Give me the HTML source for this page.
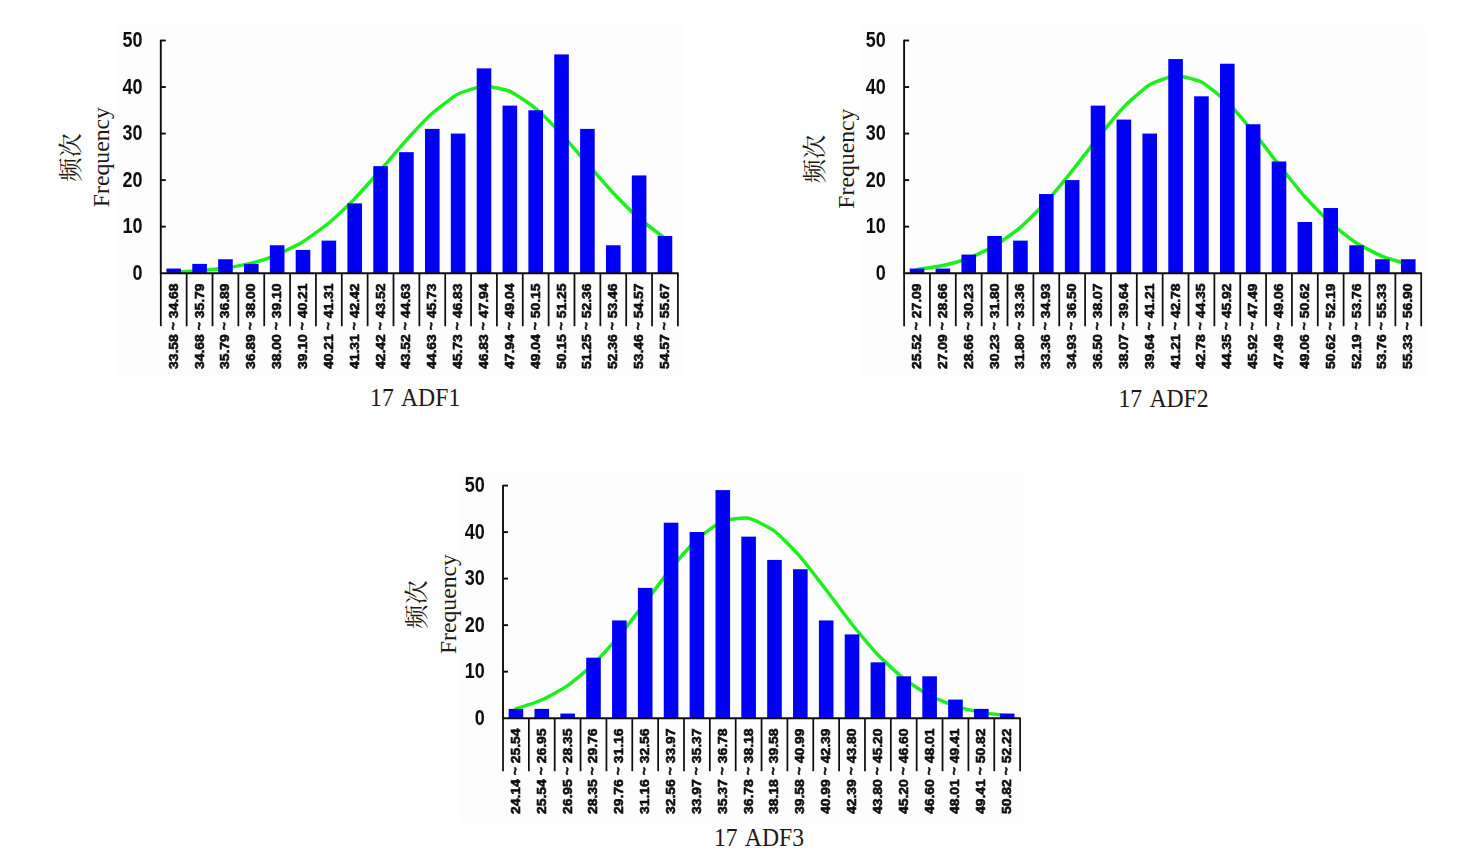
<!DOCTYPE html>
<html lang="en">
<head>
<meta charset="utf-8">
<title>Frequency distribution of ADF</title>
<style>
html,body{margin:0;padding:0;background:#ffffff;}
body{width:1470px;height:862px;overflow:hidden;font-family:"Liberation Sans",sans-serif;}
svg{display:block;position:absolute;left:0;top:0;}
</style>
</head>
<body>
<svg width="1470" height="862" viewBox="0 0 1470 862">
<defs><filter id="soft" filterUnits="userSpaceOnUse" x="0" y="0" width="1470" height="862"><feGaussianBlur stdDeviation="0.45"/></filter></defs>
<rect x="116.8" y="25.5" width="566.1" height="351.7" fill="#fdfdfd"/>
<g filter="url(#soft)">
<path d="M173.73 272.14C175.88 272.03 195.27 271.13 199.58 270.79C203.89 270.45 221.13 268.74 225.44 268.1C229.75 267.47 246.98 264.27 251.29 263.16C255.6 262.05 272.84 256.57 277.15 254.78C281.46 252.99 298.69 244.34 303 241.69C307.31 239.04 324.55 226.57 328.86 222.98C333.17 219.39 350.4 203.03 354.71 198.61C359.02 194.19 376.26 174.85 380.57 169.97C384.88 165.09 402.11 144.8 406.42 140.07C410.73 135.34 427.97 117.06 432.28 113.22C436.59 109.38 453.82 96.3 458.13 94.05C462.44 91.81 479.68 86.48 483.99 86.26C488.3 86.05 505.53 89.58 509.84 91.43C514.15 93.28 531.39 104.94 535.7 108.5C540.01 112.06 557.24 129.54 561.55 134.14C565.86 138.75 583.1 158.89 587.41 163.79C591.72 168.7 608.95 188.44 613.26 192.99C617.57 197.54 634.81 214.63 639.12 218.4C643.43 222.18 662.82 236.66 664.97 238.32" fill="none" stroke="#1cef1c" stroke-width="3.5" stroke-linecap="round" stroke-linejoin="round"/>
<rect x="166.43" y="268.55" width="14.6" height="4.66" fill="#0505f5"/>
<rect x="192.28" y="263.89" width="14.6" height="9.31" fill="#0505f5"/>
<rect x="218.14" y="259.24" width="14.6" height="13.96" fill="#0505f5"/>
<rect x="243.99" y="263.89" width="14.6" height="9.31" fill="#0505f5"/>
<rect x="269.85" y="245.27" width="14.6" height="27.93" fill="#0505f5"/>
<rect x="295.7" y="249.92" width="14.6" height="23.28" fill="#0505f5"/>
<rect x="321.56" y="240.61" width="14.6" height="32.59" fill="#0505f5"/>
<rect x="347.41" y="203.38" width="14.6" height="69.83" fill="#0505f5"/>
<rect x="373.27" y="166.13" width="14.6" height="107.07" fill="#0505f5"/>
<rect x="399.12" y="152.17" width="14.6" height="121.03" fill="#0505f5"/>
<rect x="424.98" y="128.89" width="14.6" height="144.31" fill="#0505f5"/>
<rect x="450.83" y="133.55" width="14.6" height="139.65" fill="#0505f5"/>
<rect x="476.69" y="68.38" width="14.6" height="204.82" fill="#0505f5"/>
<rect x="502.54" y="105.62" width="14.6" height="167.58" fill="#0505f5"/>
<rect x="528.4" y="110.27" width="14.6" height="162.93" fill="#0505f5"/>
<rect x="554.25" y="54.41" width="14.6" height="218.79" fill="#0505f5"/>
<rect x="580.11" y="128.89" width="14.6" height="144.31" fill="#0505f5"/>
<rect x="605.96" y="245.27" width="14.6" height="27.93" fill="#0505f5"/>
<rect x="631.82" y="175.44" width="14.6" height="97.76" fill="#0505f5"/>
<rect x="657.67" y="235.96" width="14.6" height="37.24" fill="#0505f5"/>
<g stroke="#101010" stroke-width="1.9" fill="none">
<path d="M160.8 39.8V273.2H678.6"/>
<path d="M160.8 40.5h5"/>
<path d="M160.8 87.04h5"/>
<path d="M160.8 133.58h5"/>
<path d="M160.8 180.12h5"/>
<path d="M160.8 226.66h5"/>
</g>
<g stroke="#101010" stroke-width="1.75">
<path d="M160.8 273.2v53"/>
<path d="M186.66 273.2v53"/>
<path d="M212.51 273.2v53"/>
<path d="M238.37 273.2v53"/>
<path d="M264.22 273.2v53"/>
<path d="M290.08 273.2v53"/>
<path d="M315.93 273.2v53"/>
<path d="M341.79 273.2v53"/>
<path d="M367.64 273.2v53"/>
<path d="M393.5 273.2v53"/>
<path d="M419.35 273.2v53"/>
<path d="M445.21 273.2v53"/>
<path d="M471.06 273.2v53"/>
<path d="M496.92 273.2v53"/>
<path d="M522.77 273.2v53"/>
<path d="M548.62 273.2v53"/>
<path d="M574.48 273.2v53"/>
<path d="M600.34 273.2v53"/>
<path d="M626.19 273.2v53"/>
<path d="M652.05 273.2v53"/>
<path d="M677.9 273.2v53"/>
</g>
<g font-family="'Liberation Sans', sans-serif" font-weight="bold" font-size="18" fill="#101010" text-anchor="end">
<text transform="translate(142.5 47.2) scale(1 1.21)">50</text>
<text transform="translate(142.5 93.74) scale(1 1.21)">40</text>
<text transform="translate(142.5 140.28) scale(1 1.21)">30</text>
<text transform="translate(142.5 186.82) scale(1 1.21)">20</text>
<text transform="translate(142.5 233.36) scale(1 1.21)">10</text>
<text transform="translate(142.5 279.9) scale(1 1.21)">0</text>
</g>
<g font-family="'Liberation Sans', sans-serif" font-weight="bold" font-size="12.8" fill="#101010" stroke="#101010" stroke-width="0.6" stroke-linejoin="round">
<text transform="translate(177.73 369.1) rotate(-90) scale(1.09 1)">33.58 ~ 34.68</text>
<text transform="translate(203.58 369.1) rotate(-90) scale(1.09 1)">34.68 ~ 35.79</text>
<text transform="translate(229.44 369.1) rotate(-90) scale(1.09 1)">35.79 ~ 36.89</text>
<text transform="translate(255.29 369.1) rotate(-90) scale(1.09 1)">36.89 ~ 38.00</text>
<text transform="translate(281.15 369.1) rotate(-90) scale(1.09 1)">38.00 ~ 39.10</text>
<text transform="translate(307 369.1) rotate(-90) scale(1.09 1)">39.10 ~ 40.21</text>
<text transform="translate(332.86 369.1) rotate(-90) scale(1.09 1)">40.21 ~ 41.31</text>
<text transform="translate(358.71 369.1) rotate(-90) scale(1.09 1)">41.31 ~ 42.42</text>
<text transform="translate(384.57 369.1) rotate(-90) scale(1.09 1)">42.42 ~ 43.52</text>
<text transform="translate(410.42 369.1) rotate(-90) scale(1.09 1)">43.52 ~ 44.63</text>
<text transform="translate(436.28 369.1) rotate(-90) scale(1.09 1)">44.63 ~ 45.73</text>
<text transform="translate(462.13 369.1) rotate(-90) scale(1.09 1)">45.73 ~ 46.83</text>
<text transform="translate(487.99 369.1) rotate(-90) scale(1.09 1)">46.83 ~ 47.94</text>
<text transform="translate(513.84 369.1) rotate(-90) scale(1.09 1)">47.94 ~ 49.04</text>
<text transform="translate(539.7 369.1) rotate(-90) scale(1.09 1)">49.04 ~ 50.15</text>
<text transform="translate(565.55 369.1) rotate(-90) scale(1.09 1)">50.15 ~ 51.25</text>
<text transform="translate(591.41 369.1) rotate(-90) scale(1.09 1)">51.25 ~ 52.36</text>
<text transform="translate(617.26 369.1) rotate(-90) scale(1.09 1)">52.36 ~ 53.46</text>
<text transform="translate(643.12 369.1) rotate(-90) scale(1.09 1)">53.46 ~ 54.57</text>
<text transform="translate(668.97 369.1) rotate(-90) scale(1.09 1)">54.57 ~ 55.67</text>
</g>
</g>
<text font-family="'Liberation Serif', serif" font-size="23.7" fill="#231815" text-anchor="middle" transform="translate(109.3 157.15) rotate(-90) scale(1 1)">Frequency</text>
<text font-family="'Liberation Serif', 'Noto Serif CJK SC', serif" font-size="24.2" fill="#231815" transform="translate(78.85 181.7) rotate(-90)">频次</text>
<text font-family="'Liberation Serif', serif" font-size="23.7" fill="#231815" word-spacing="2.6" transform="translate(370.1 405.8) scale(1 1.07)">17 ADF1</text>
<rect x="860.1" y="25.5" width="566.1" height="351.7" fill="#fdfdfd"/>
<g filter="url(#soft)">
<path d="M917.03 269.61C919.18 269.27 938.57 266.51 942.88 265.56C947.19 264.61 964.43 259.81 968.74 258.18C973.05 256.54 990.28 248.46 994.59 245.89C998.9 243.32 1016.14 230.99 1020.45 227.33C1024.76 223.67 1041.99 206.66 1046.3 201.97C1050.61 197.27 1067.85 176.33 1072.16 170.96C1076.47 165.6 1093.7 142.92 1098.01 137.58C1102.32 132.24 1119.56 111.31 1123.87 106.91C1128.18 102.5 1145.41 87.33 1149.72 84.74C1154.03 82.14 1171.27 76.01 1175.58 75.78C1179.89 75.56 1197.12 79.86 1201.43 82.06C1205.74 84.25 1222.98 98.01 1227.29 102.14C1231.6 106.28 1248.83 126.47 1253.14 131.71C1257.45 136.95 1274.69 159.6 1279 165.02C1283.31 170.44 1300.54 191.9 1304.85 196.75C1309.16 201.61 1326.4 219.41 1330.71 223.27C1335.02 227.13 1352.25 240.3 1356.56 243.06C1360.87 245.81 1378.11 254.59 1382.42 256.38C1386.73 258.17 1406.12 263.85 1408.27 264.52" fill="none" stroke="#1cef1c" stroke-width="3.5" stroke-linecap="round" stroke-linejoin="round"/>
<rect x="909.73" y="268.55" width="14.6" height="4.66" fill="#0505f5"/>
<rect x="935.58" y="268.55" width="14.6" height="4.66" fill="#0505f5"/>
<rect x="961.44" y="254.58" width="14.6" height="18.62" fill="#0505f5"/>
<rect x="987.29" y="235.96" width="14.6" height="37.24" fill="#0505f5"/>
<rect x="1013.15" y="240.61" width="14.6" height="32.59" fill="#0505f5"/>
<rect x="1039" y="194.06" width="14.6" height="79.14" fill="#0505f5"/>
<rect x="1064.86" y="180.1" width="14.6" height="93.1" fill="#0505f5"/>
<rect x="1090.71" y="105.62" width="14.6" height="167.58" fill="#0505f5"/>
<rect x="1116.57" y="119.58" width="14.6" height="153.62" fill="#0505f5"/>
<rect x="1142.42" y="133.55" width="14.6" height="139.65" fill="#0505f5"/>
<rect x="1168.28" y="59.07" width="14.6" height="214.13" fill="#0505f5"/>
<rect x="1194.13" y="96.31" width="14.6" height="176.89" fill="#0505f5"/>
<rect x="1219.99" y="63.72" width="14.6" height="209.48" fill="#0505f5"/>
<rect x="1245.84" y="124.24" width="14.6" height="148.96" fill="#0505f5"/>
<rect x="1271.7" y="161.48" width="14.6" height="111.72" fill="#0505f5"/>
<rect x="1297.55" y="221.99" width="14.6" height="51.21" fill="#0505f5"/>
<rect x="1323.41" y="208.03" width="14.6" height="65.17" fill="#0505f5"/>
<rect x="1349.26" y="245.27" width="14.6" height="27.93" fill="#0505f5"/>
<rect x="1375.12" y="259.24" width="14.6" height="13.96" fill="#0505f5"/>
<rect x="1400.97" y="259.24" width="14.6" height="13.96" fill="#0505f5"/>
<g stroke="#101010" stroke-width="1.9" fill="none">
<path d="M904.1 39.8V273.2H1421.9"/>
<path d="M904.1 40.5h5"/>
<path d="M904.1 87.04h5"/>
<path d="M904.1 133.58h5"/>
<path d="M904.1 180.12h5"/>
<path d="M904.1 226.66h5"/>
</g>
<g stroke="#101010" stroke-width="1.75">
<path d="M904.1 273.2v53"/>
<path d="M929.96 273.2v53"/>
<path d="M955.81 273.2v53"/>
<path d="M981.66 273.2v53"/>
<path d="M1007.52 273.2v53"/>
<path d="M1033.38 273.2v53"/>
<path d="M1059.23 273.2v53"/>
<path d="M1085.09 273.2v53"/>
<path d="M1110.94 273.2v53"/>
<path d="M1136.8 273.2v53"/>
<path d="M1162.65 273.2v53"/>
<path d="M1188.51 273.2v53"/>
<path d="M1214.36 273.2v53"/>
<path d="M1240.22 273.2v53"/>
<path d="M1266.07 273.2v53"/>
<path d="M1291.92 273.2v53"/>
<path d="M1317.78 273.2v53"/>
<path d="M1343.63 273.2v53"/>
<path d="M1369.49 273.2v53"/>
<path d="M1395.35 273.2v53"/>
<path d="M1421.2 273.2v53"/>
</g>
<g font-family="'Liberation Sans', sans-serif" font-weight="bold" font-size="18" fill="#101010" text-anchor="end">
<text transform="translate(885.8 47.2) scale(1 1.21)">50</text>
<text transform="translate(885.8 93.74) scale(1 1.21)">40</text>
<text transform="translate(885.8 140.28) scale(1 1.21)">30</text>
<text transform="translate(885.8 186.82) scale(1 1.21)">20</text>
<text transform="translate(885.8 233.36) scale(1 1.21)">10</text>
<text transform="translate(885.8 279.9) scale(1 1.21)">0</text>
</g>
<g font-family="'Liberation Sans', sans-serif" font-weight="bold" font-size="12.8" fill="#101010" stroke="#101010" stroke-width="0.6" stroke-linejoin="round">
<text transform="translate(921.03 369.1) rotate(-90) scale(1.09 1)">25.52 ~ 27.09</text>
<text transform="translate(946.88 369.1) rotate(-90) scale(1.09 1)">27.09 ~ 28.66</text>
<text transform="translate(972.74 369.1) rotate(-90) scale(1.09 1)">28.66 ~ 30.23</text>
<text transform="translate(998.59 369.1) rotate(-90) scale(1.09 1)">30.23 ~ 31.80</text>
<text transform="translate(1024.45 369.1) rotate(-90) scale(1.09 1)">31.80 ~ 33.36</text>
<text transform="translate(1050.3 369.1) rotate(-90) scale(1.09 1)">33.36 ~ 34.93</text>
<text transform="translate(1076.16 369.1) rotate(-90) scale(1.09 1)">34.93 ~ 36.50</text>
<text transform="translate(1102.01 369.1) rotate(-90) scale(1.09 1)">36.50 ~ 38.07</text>
<text transform="translate(1127.87 369.1) rotate(-90) scale(1.09 1)">38.07 ~ 39.64</text>
<text transform="translate(1153.72 369.1) rotate(-90) scale(1.09 1)">39.64 ~ 41.21</text>
<text transform="translate(1179.58 369.1) rotate(-90) scale(1.09 1)">41.21 ~ 42.78</text>
<text transform="translate(1205.43 369.1) rotate(-90) scale(1.09 1)">42.78 ~ 44.35</text>
<text transform="translate(1231.29 369.1) rotate(-90) scale(1.09 1)">44.35 ~ 45.92</text>
<text transform="translate(1257.14 369.1) rotate(-90) scale(1.09 1)">45.92 ~ 47.49</text>
<text transform="translate(1283 369.1) rotate(-90) scale(1.09 1)">47.49 ~ 49.06</text>
<text transform="translate(1308.85 369.1) rotate(-90) scale(1.09 1)">49.06 ~ 50.62</text>
<text transform="translate(1334.71 369.1) rotate(-90) scale(1.09 1)">50.62 ~ 52.19</text>
<text transform="translate(1360.56 369.1) rotate(-90) scale(1.09 1)">52.19 ~ 53.76</text>
<text transform="translate(1386.42 369.1) rotate(-90) scale(1.09 1)">53.76 ~ 55.33</text>
<text transform="translate(1412.27 369.1) rotate(-90) scale(1.09 1)">55.33 ~ 56.90</text>
</g>
</g>
<text font-family="'Liberation Serif', serif" font-size="23.7" fill="#231815" text-anchor="middle" transform="translate(853.6 158.65) rotate(-90) scale(1 1)">Frequency</text>
<text font-family="'Liberation Serif', 'Noto Serif CJK SC', serif" font-size="24.2" fill="#231815" transform="translate(823.15 183.2) rotate(-90)">频次</text>
<text font-family="'Liberation Serif', serif" font-size="23.7" fill="#231815" word-spacing="2.6" transform="translate(1118.5 407.1) scale(1 1.07)">17 ADF2</text>
<rect x="459" y="470.6" width="566.1" height="351.6" fill="#fdfdfd"/>
<g filter="url(#soft)">
<path d="M515.93 708.86C518.08 708.12 537.47 701.96 541.78 700.02C546.09 698.08 563.33 688.55 567.64 685.57C571.95 682.59 589.18 668.36 593.49 664.22C597.8 660.08 615.04 641.03 619.35 635.89C623.66 630.75 640.89 608.14 645.2 602.51C649.51 596.88 666.75 573.58 671.06 568.3C675.37 563.02 692.6 543.11 696.91 539.17C701.22 535.24 718.46 522.85 722.77 521.1C727.08 519.36 744.31 517.35 748.62 518.18C752.93 519.01 770.17 527.87 774.48 531.09C778.79 534.31 796.02 551.95 800.33 556.86C804.64 561.76 821.88 584.34 826.19 589.95C830.5 595.57 847.73 618.83 852.04 624.23C856.35 629.63 873.59 650.2 877.9 654.73C882.21 659.27 899.44 675.29 903.75 678.69C908.06 682.09 925.3 693.23 929.61 695.52C933.92 697.82 951.15 704.8 955.46 706.2C959.77 707.61 977.01 711.57 981.32 712.35C985.63 713.13 1005.02 715.3 1007.17 715.57" fill="none" stroke="#1cef1c" stroke-width="3.5" stroke-linecap="round" stroke-linejoin="round"/>
<rect x="508.63" y="708.89" width="14.6" height="9.31" fill="#0505f5"/>
<rect x="534.48" y="708.89" width="14.6" height="9.31" fill="#0505f5"/>
<rect x="560.34" y="713.55" width="14.6" height="4.66" fill="#0505f5"/>
<rect x="586.19" y="657.69" width="14.6" height="60.52" fill="#0505f5"/>
<rect x="612.05" y="620.45" width="14.6" height="97.76" fill="#0505f5"/>
<rect x="637.9" y="587.86" width="14.6" height="130.34" fill="#0505f5"/>
<rect x="663.76" y="522.69" width="14.6" height="195.51" fill="#0505f5"/>
<rect x="689.61" y="532" width="14.6" height="186.2" fill="#0505f5"/>
<rect x="715.47" y="490.11" width="14.6" height="228.09" fill="#0505f5"/>
<rect x="741.32" y="536.65" width="14.6" height="181.55" fill="#0505f5"/>
<rect x="767.18" y="559.93" width="14.6" height="158.27" fill="#0505f5"/>
<rect x="793.03" y="569.24" width="14.6" height="148.96" fill="#0505f5"/>
<rect x="818.89" y="620.45" width="14.6" height="97.76" fill="#0505f5"/>
<rect x="844.74" y="634.41" width="14.6" height="83.79" fill="#0505f5"/>
<rect x="870.6" y="662.34" width="14.6" height="55.86" fill="#0505f5"/>
<rect x="896.45" y="676.31" width="14.6" height="41.9" fill="#0505f5"/>
<rect x="922.31" y="676.31" width="14.6" height="41.9" fill="#0505f5"/>
<rect x="948.16" y="699.58" width="14.6" height="18.62" fill="#0505f5"/>
<rect x="974.02" y="708.89" width="14.6" height="9.31" fill="#0505f5"/>
<rect x="999.87" y="713.55" width="14.6" height="4.66" fill="#0505f5"/>
<g stroke="#101010" stroke-width="1.9" fill="none">
<path d="M503 484.9V718.2H1020.8"/>
<path d="M503 485.6h5"/>
<path d="M503 532.12h5"/>
<path d="M503 578.64h5"/>
<path d="M503 625.16h5"/>
<path d="M503 671.68h5"/>
</g>
<g stroke="#101010" stroke-width="1.75">
<path d="M503 718.2v53"/>
<path d="M528.86 718.2v53"/>
<path d="M554.71 718.2v53"/>
<path d="M580.57 718.2v53"/>
<path d="M606.42 718.2v53"/>
<path d="M632.27 718.2v53"/>
<path d="M658.13 718.2v53"/>
<path d="M683.99 718.2v53"/>
<path d="M709.84 718.2v53"/>
<path d="M735.69 718.2v53"/>
<path d="M761.55 718.2v53"/>
<path d="M787.4 718.2v53"/>
<path d="M813.26 718.2v53"/>
<path d="M839.12 718.2v53"/>
<path d="M864.97 718.2v53"/>
<path d="M890.83 718.2v53"/>
<path d="M916.68 718.2v53"/>
<path d="M942.54 718.2v53"/>
<path d="M968.39 718.2v53"/>
<path d="M994.25 718.2v53"/>
<path d="M1020.1 718.2v53"/>
</g>
<g font-family="'Liberation Sans', sans-serif" font-weight="bold" font-size="18" fill="#101010" text-anchor="end">
<text transform="translate(484.7 492.3) scale(1 1.21)">50</text>
<text transform="translate(484.7 538.82) scale(1 1.21)">40</text>
<text transform="translate(484.7 585.34) scale(1 1.21)">30</text>
<text transform="translate(484.7 631.86) scale(1 1.21)">20</text>
<text transform="translate(484.7 678.38) scale(1 1.21)">10</text>
<text transform="translate(484.7 724.9) scale(1 1.21)">0</text>
</g>
<g font-family="'Liberation Sans', sans-serif" font-weight="bold" font-size="12.8" fill="#101010" stroke="#101010" stroke-width="0.6" stroke-linejoin="round">
<text transform="translate(519.93 814.1) rotate(-90) scale(1.09 1)">24.14 ~ 25.54</text>
<text transform="translate(545.78 814.1) rotate(-90) scale(1.09 1)">25.54 ~ 26.95</text>
<text transform="translate(571.64 814.1) rotate(-90) scale(1.09 1)">26.95 ~ 28.35</text>
<text transform="translate(597.49 814.1) rotate(-90) scale(1.09 1)">28.35 ~ 29.76</text>
<text transform="translate(623.35 814.1) rotate(-90) scale(1.09 1)">29.76 ~ 31.16</text>
<text transform="translate(649.2 814.1) rotate(-90) scale(1.09 1)">31.16 ~ 32.56</text>
<text transform="translate(675.06 814.1) rotate(-90) scale(1.09 1)">32.56 ~ 33.97</text>
<text transform="translate(700.91 814.1) rotate(-90) scale(1.09 1)">33.97 ~ 35.37</text>
<text transform="translate(726.77 814.1) rotate(-90) scale(1.09 1)">35.37 ~ 36.78</text>
<text transform="translate(752.62 814.1) rotate(-90) scale(1.09 1)">36.78 ~ 38.18</text>
<text transform="translate(778.48 814.1) rotate(-90) scale(1.09 1)">38.18 ~ 39.58</text>
<text transform="translate(804.33 814.1) rotate(-90) scale(1.09 1)">39.58 ~ 40.99</text>
<text transform="translate(830.19 814.1) rotate(-90) scale(1.09 1)">40.99 ~ 42.39</text>
<text transform="translate(856.04 814.1) rotate(-90) scale(1.09 1)">42.39 ~ 43.80</text>
<text transform="translate(881.9 814.1) rotate(-90) scale(1.09 1)">43.80 ~ 45.20</text>
<text transform="translate(907.75 814.1) rotate(-90) scale(1.09 1)">45.20 ~ 46.60</text>
<text transform="translate(933.61 814.1) rotate(-90) scale(1.09 1)">46.60 ~ 48.01</text>
<text transform="translate(959.46 814.1) rotate(-90) scale(1.09 1)">48.01 ~ 49.41</text>
<text transform="translate(985.32 814.1) rotate(-90) scale(1.09 1)">49.41 ~ 50.82</text>
<text transform="translate(1011.17 814.1) rotate(-90) scale(1.09 1)">50.82 ~ 52.22</text>
</g>
</g>
<text font-family="'Liberation Serif', serif" font-size="23.7" fill="#231815" text-anchor="middle" transform="translate(455.5 604.1) rotate(-90) scale(1 1)">Frequency</text>
<text font-family="'Liberation Serif', 'Noto Serif CJK SC', serif" font-size="24.2" fill="#231815" transform="translate(425.05 628.65) rotate(-90)">频次</text>
<text font-family="'Liberation Serif', serif" font-size="23.7" fill="#231815" word-spacing="2.6" transform="translate(713.9 846.1) scale(1 1.07)">17 ADF3</text>
</svg>
</body>
</html>
